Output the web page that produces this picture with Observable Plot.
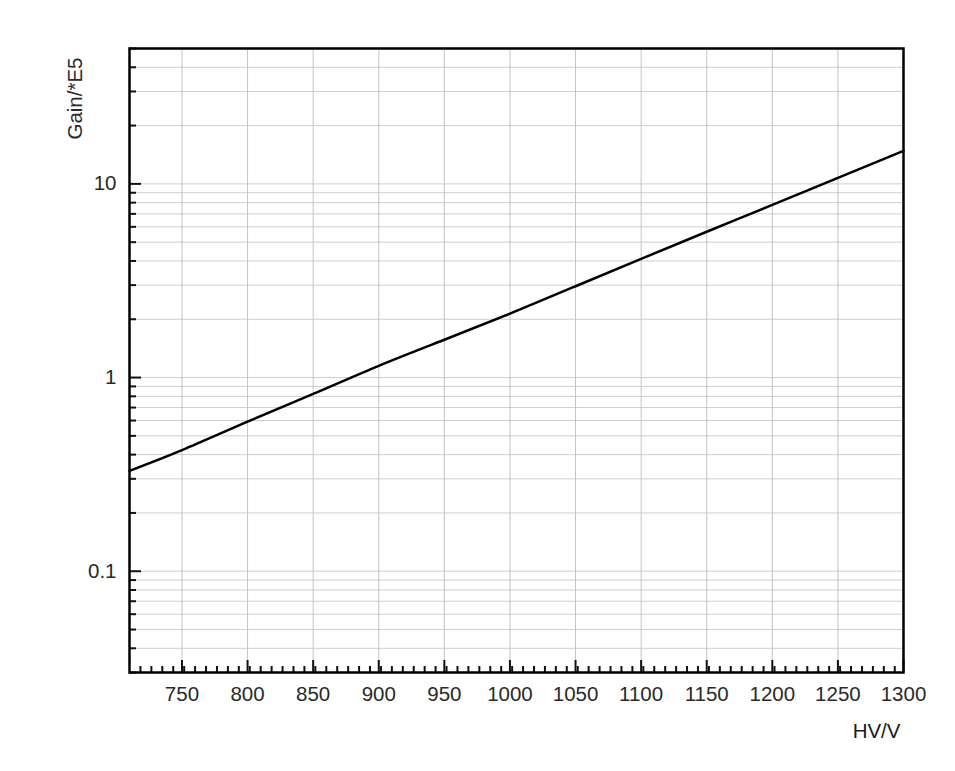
<!DOCTYPE html>
<html>
<head>
<meta charset="utf-8">
<script src="https://cdn.jsdelivr.net/npm/d3@7"></script>
<script src="https://cdn.jsdelivr.net/npm/@observablehq/plot@0.6"></script>
<style>
  html, body { margin: 0; padding: 0; background: #fff; }
</style>
</head>
<body>
<div id="chart"></div>
<script>
// Data
const hv   = [710, 750, 800, 850, 900, 950, 1000, 1050, 1100, 1150, 1200, 1250, 1300];
const gain = [0.33, 0.422, 0.592, 0.823, 1.15, 1.567, 2.14, 2.96, 4.1, 5.66, 7.79, 10.75, 14.8];

// Tick labels / tick positions
const xMajor = [750, 800, 850, 900, 950, 1000, 1050, 1100, 1150, 1200, 1250, 1300];
const xMinor = d3.range(710, 1300.01, 50 / 6).map(v => Math.round(v * 100) / 100)
  .filter(v => !xMajor.some(m => Math.abs(m - v) < 0.5) && v > 712);
const yMajor = [0.1, 1, 10];
const yMinor = [0.03, 0.04, 0.05, 0.06, 0.07, 0.08, 0.09,
                0.2, 0.3, 0.4, 0.5, 0.6, 0.7, 0.8, 0.9,
                2, 3, 4, 5, 6, 7, 8, 9,
                20, 30, 40, 50];
const xLabel = "HV/V";
const yLabel = "Gain/*E5";

const data = hv.map((v, i) => ({hv: v, gain: gain[i]}));

const W = 955, H = 771;
const mL = 129, mR = 52, mT = 48, mB = 99;
const plotW = W - mL - mR, plotH = H - mT - mB;
const FS = 20.5;

const chart = Plot.plot({
  width: W,
  height: H,
  marginLeft: mL,
  marginRight: mR,
  marginTop: mT,
  marginBottom: mB,
  style: {fontFamily: "'Liberation Sans', Arial, sans-serif", fontSize: FS + "px", color: "#2a2a2a", background: "#fff"},
  x: {domain: [710, 1300]},
  y: {type: "log", domain: [0.03, 50]},
  marks: [
    // grid
    Plot.ruleY(yMinor.concat(yMajor), {stroke: "#cfcfcf", strokeWidth: 1}),
    Plot.ruleX(xMajor, {stroke: "#c4c4c4", strokeWidth: 1}),
    // inward ticks
    Plot.tickX(xMinor, {x: d => d, insetTop: plotH - 6, stroke: "#111", strokeWidth: 2}),
    Plot.tickX(xMajor, {x: d => d, insetTop: plotH - 12, stroke: "#111", strokeWidth: 2}),
    Plot.tickY(yMinor, {y: d => d, insetRight: plotW - 7, stroke: "#111", strokeWidth: 2}),
    Plot.tickY(yMajor, {y: d => d, insetRight: plotW - 12, stroke: "#111", strokeWidth: 2}),
    // axes labels
    Plot.axisX({ticks: xMajor, tickSize: 0, tickPadding: 14, label: null, fontSize: FS, tickFormat: d => String(d)}),
    Plot.axisY({ticks: yMajor, tickSize: 0, tickPadding: 13, label: null, fontSize: FS, tickFormat: d => String(d)}),
    // curve
    Plot.line(data, {x: "hv", y: "gain", stroke: "#000", strokeWidth: 2.5, curve: "natural"}),
    // frame
    Plot.frame({stroke: "#000", strokeWidth: 2.5}),
    // axis titles
    Plot.text([yLabel], {frameAnchor: "top-left", text: d => d, rotate: -90, textAnchor: "end", dx: -62, dy: 9, fontSize: FS, fill: "#2a2a2a"}),
    Plot.text([xLabel], {frameAnchor: "bottom-right", text: d => d, textAnchor: "end", dx: -3, dy: 65, fontSize: FS, fill: "#1a1a1a"})
  ]
});

document.getElementById("chart").appendChild(chart);
</script>
</body>
</html>
